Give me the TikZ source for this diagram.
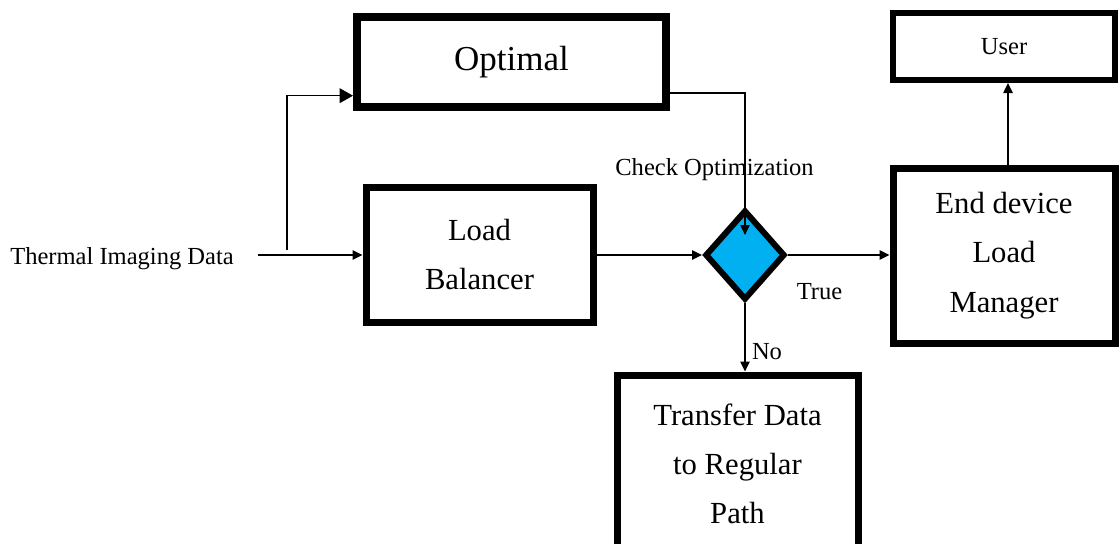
\documentclass[tikz,border=0pt]{standalone}
\usepackage{fontspec}
\setmainfont{Liberation Serif}
\usetikzlibrary{arrows.meta,shapes.geometric,calc}
\newdimen\px \px=0.75pt
\tikzset{
  box/.style={draw, rectangle, line width=7\px, align=center, inner sep=0pt,
    font=\fontsize{23}{37}\selectfont},
  decision/.style={draw, diamond, line width=6\px, fill=cyan!70!blue!60!white, inner sep=0pt},
  label/.style={inner sep=0pt, font=\fontsize{18.4}{22}\selectfont},
  conn/.style={line width=1.1pt, -{Triangle[length=7.5pt,width=7pt]}},
  bigconn/.style={line width=1.1pt, -{Triangle[length=10pt,width=11pt]}}
}
\definecolor{decfill}{HTML}{00B0F0}
\begin{document}
\begin{tikzpicture}[x=0.75pt,y=-0.75pt]
  \useasboundingbox (0,0) rectangle (1120,543);
  \clip (0,0) rectangle (1120,543);

  % boxes
  \node[box, line width=8\px, minimum width=309\px, minimum height=90\px,
        font=\fontsize{26.25}{30}\selectfont] (opt) at (511.5,62) {Optimal};
  \node[box, minimum width=227\px, minimum height=135\px] (lb) at (479.5,254.5) {Load\\Balancer};
  \node[decision, fill=decfill, minimum width=80\px, minimum height=90\px] (dec) at (745,255) {};
  \node[box, minimum width=222\px, minimum height=175\px] (end) at (1004,255.5) {End device\\Load\\Manager};
  \node[box, line width=6\px, minimum width=222\px, minimum height=67\px,
        font=\fontsize{18.4}{22}\selectfont] (user) at (1004,46.5) {User};
  \node[box, minimum width=241\px, minimum height=178\px] (xfer) at (737.5,464) {Transfer Data\\to Regular\\Path};

  % labels
  \node[label, anchor=west, inner xsep=0pt] (src) at (10,259) {Thermal Imaging Data};
  \node[label] (chk) at (714.5,170) {Check Optimization};
  \node[label] (tru) at (819.5,292) {True};
  \node[label] (no) at (767,352) {No};

  % helper points
  \coordinate (start) at (258,255);
  \coordinate (fork) at (287,250);
  \coordinate (dectip) at ($(dec.center)+(0,-20)$);

  % connectors
  \draw[conn] (start) -- (start -| lb.west);
  \draw[bigconn] (fork) |- (opt.192.8);
  \draw[conn] (opt.-11.3) -| (dectip);
  \draw[conn] (lb.east |- dec.west) -- (dec.west);
  \draw[conn] (dec.east) -- (dec.east -| end.west);
  \draw[conn] (dec.south) -- (dec.south |- xfer.north);
  \draw[conn] (end.north) ++(4,0) coordinate (upfrom) -- (upfrom |- user.south);
\end{tikzpicture}
\end{document}
